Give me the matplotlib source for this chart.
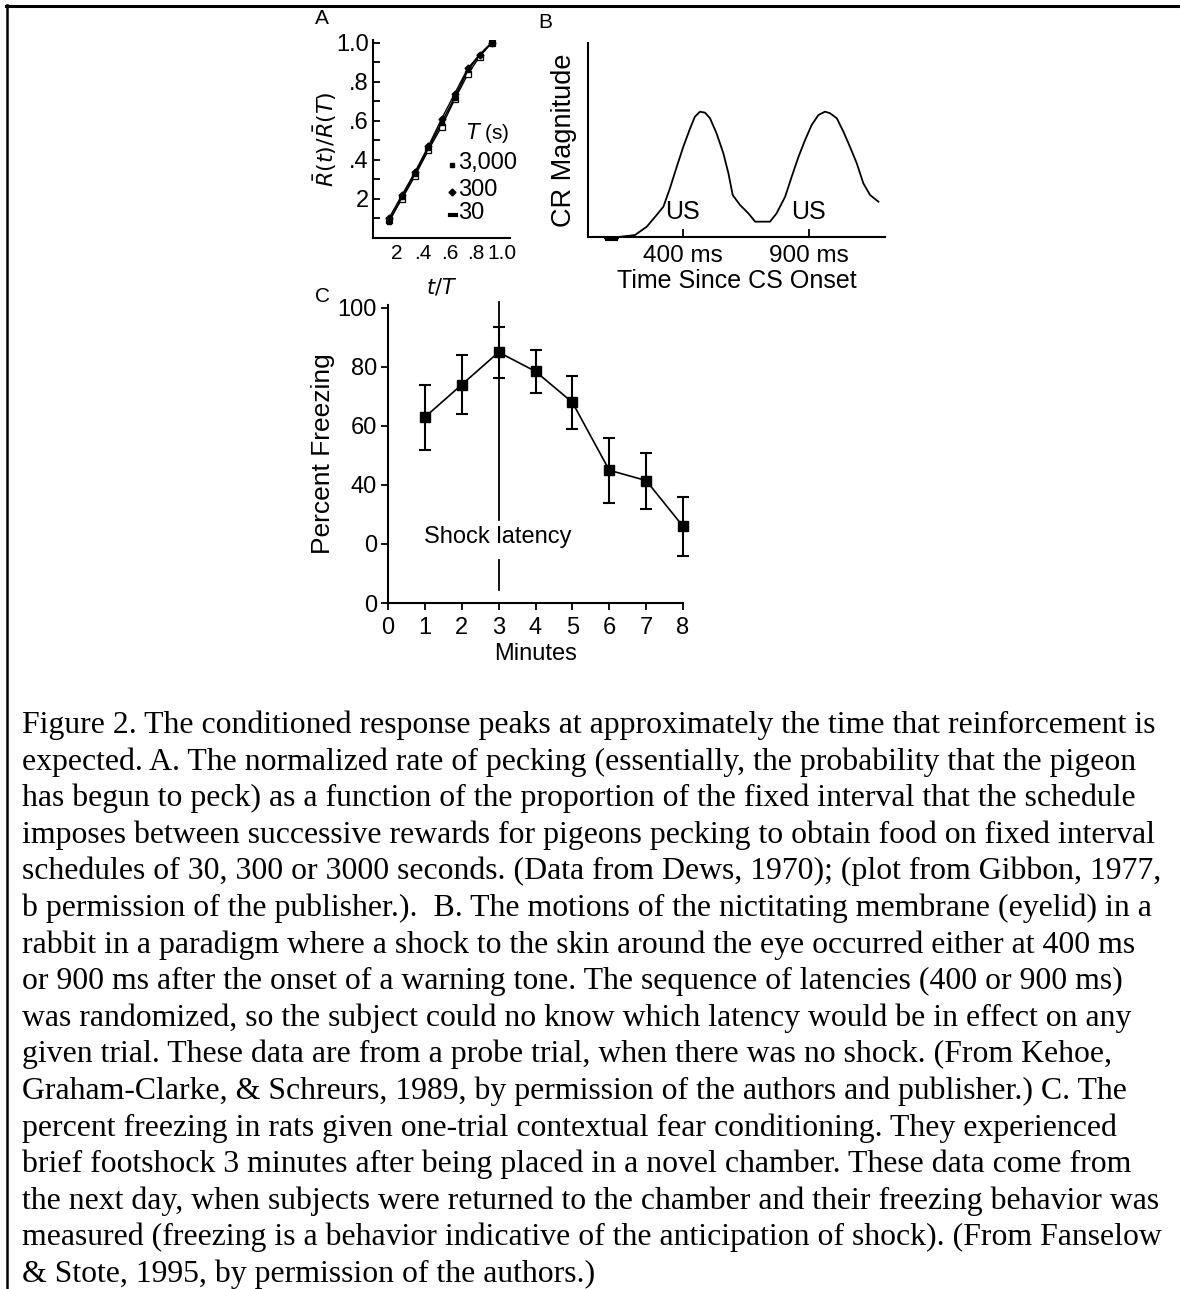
import matplotlib
matplotlib.use("Agg")
import matplotlib.pyplot as plt
from matplotlib.lines import Line2D
import numpy as np

W, H = 1180, 1289
DPI = 100

# ---------------- Data ----------------
# Panel A: normalized response rate vs t/T for three FI schedules
a_x = [0.14, 0.24, 0.34, 0.44, 0.54, 0.64, 0.74, 0.83, 0.92]
a_y_3000 = [0.08, 0.21, 0.33, 0.46, 0.59, 0.72, 0.86, 0.94, 1.00]
a_y_300 = [0.10, 0.22, 0.34, 0.47, 0.61, 0.74, 0.87, 0.94, 1.00]
a_y_30 = [0.09, 0.20, 0.32, 0.45, 0.57, 0.71, 0.84, 0.93, 1.00]
a_legend = ["3,000", "300", "30"]
a_yticks = [0.2, 0.4, 0.6, 0.8, 1.0]
a_yticklabels = ["2", ".4", ".6", ".8", "1.0"]
a_xticks = [0.2, 0.4, 0.6, 0.8, 1.0]
a_xticklabels = ["2", ".4", ".6", ".8", "1.0"]

# Panel B: CR magnitude vs time since CS onset (ms)
b_t = [24, 90, 91, 143, 144, 210, 257, 296, 323, 349, 376, 402, 429, 448, 468,
       488, 508, 534, 561, 581, 598, 627, 660, 687, 746, 772, 806, 832, 859,
       885, 911, 938, 964, 984, 1011, 1037, 1063, 1090, 1116, 1143, 1176]
b_mag = [0.0, 0.0, -0.008, -0.008, 0.0, 0.01, 0.053, 0.113, 0.156, 0.251, 0.362,
         0.465, 0.560, 0.620, 0.646, 0.641, 0.612, 0.534, 0.431, 0.328, 0.216,
         0.165, 0.122, 0.079, 0.079, 0.122, 0.208, 0.311, 0.414, 0.500, 0.577,
         0.629, 0.646, 0.638, 0.612, 0.543, 0.465, 0.380, 0.277, 0.216, 0.182]
b_us = [400, 900]
b_ticklabels = ["400 ms", "900 ms"]

# Panel C: percent freezing vs minutes
c_min = [1, 2, 3, 4, 5, 6, 7, 8]
c_freeze = [63, 74, 85, 78.5, 68, 45, 41.5, 26]
c_err = [11, 10, 8.7, 7.3, 9, 11, 9.5, 10]
c_yticks = [0, 20, 40, 60, 80, 100]
c_yticklabels = ["0", "0", "40", "60", "80", "100"]
c_xticks = [0, 1, 2, 3, 4, 5, 6, 7, 8]
c_shock = 3

caption = [
    "Figure 2. The conditioned response peaks at approximately the time that reinforcement is",
    "expected. A. The normalized rate of pecking (essentially, the probability that the pigeon",
    "has begun to peck) as a function of the proportion of the fixed interval that the schedule",
    "imposes between successive rewards for pigeons pecking to obtain food on fixed interval",
    "schedules of 30, 300 or 3000 seconds. (Data from Dews, 1970); (plot from Gibbon, 1977,",
    "b permission of the publisher.).  B. The motions of the nictitating membrane (eyelid) in a",
    "rabbit in a paradigm where a shock to the skin around the eye occurred either at 400 ms",
    "or 900 ms after the onset of a warning tone. The sequence of latencies (400 or 900 ms)",
    "was randomized, so the subject could no know which latency would be in effect on any",
    "given trial. These data are from a probe trial, when there was no shock. (From Kehoe,",
    "Graham-Clarke, & Schreurs, 1989, by permission of the authors and publisher.) C. The",
    "percent freezing in rats given one-trial contextual fear conditioning. They experienced",
    "brief footshock 3 minutes after being placed in a novel chamber. These data come from",
    "the next day, when subjects were returned to the chamber and their freezing behavior was",
    "measured (freezing is a behavior indicative of the anticipation of shock). (From Fanselow",
    "& Stote, 1995, by permission of the authors.)",
]

# ---------------- Figure ----------------
SANS = ["Liberation Sans", "DejaVu Sans"]
SERIF = ["Liberation Serif", "DejaVu Serif"]
plt.rcParams["font.family"] = SANS

fig = plt.figure(figsize=(W / DPI, H / DPI), dpi=DPI)
fig.patch.set_facecolor("white")


def rect(l, r, b, t):
    return [l / W, 1 - b / H, (r - l) / W, (b - t) / H]


def fx(px):
    return px / W


def fy(py):
    return 1 - py / H


AXLW = 1.5

# Frame lines (top and left)
fig.add_artist(Line2D([fx(6), fx(1180)], [fy(6), fy(6)], color="black", lw=2.2))
fig.add_artist(Line2D([fx(7), fx(7)], [fy(5), fy(1289)], color="black", lw=1.8))


def style(ax):
    for s in ["top", "right"]:
        ax.spines[s].set_visible(False)
    for s in ["left", "bottom"]:
        ax.spines[s].set_linewidth(AXLW)
    ax.set_facecolor("none")


# ---- Panel A ----
axA = fig.add_axes(rect(373, 510, 238, 40))
style(axA)
axA.set_xlim(0.02, 1.06)
axA.set_ylim(0, 1.015)
axA.plot(a_x, a_y_30, color="black", lw=1.0, marker="s", ms=4.5, mfc="white", mec="black", mew=0.9)
axA.plot(a_x, a_y_300, color="black", lw=1.0, marker="D", ms=3.5, mfc="black", mec="black")
axA.plot(a_x, a_y_3000, color="black", lw=1.2, marker="s", ms=3.5, mfc="black", mec="black")
axA.set_yticks(np.arange(0.1, 1.01, 0.1), minor=True)
axA.set_yticks(a_yticks)
axA.set_yticklabels(a_yticklabels, fontsize=17)
axA.set_xticks(a_xticks)
axA.set_xticklabels(a_xticklabels, fontsize=15)
axA.tick_params(axis="y", which="both", direction="in", length=5, width=1.3, pad=3)
axA.tick_params(axis="x", length=0, pad=4)
axA.set_ylabel(r"$\bar{R}(t)/\bar{R}(T)$", fontsize=16, labelpad=-2)
axA.set_xlabel(r"$t/T$", fontsize=15, labelpad=10)
fig.text(fx(466), fy(133), r"$T$ (s)", fontsize=15, ha="left", va="center")
for lab, yy in zip(a_legend, [163, 190, 213]):
    fig.text(fx(458), fy(yy), lab, fontsize=17, ha="left", va="center")
fig.add_artist(Line2D([fx(452)], [fy(165)], marker="s", ms=3.5, color="black", ls="none"))
fig.add_artist(Line2D([fx(452)], [fy(192)], marker="D", ms=3.5, color="black", ls="none"))
fig.add_artist(Line2D([fx(450), fx(456)], [fy(215), fy(215)], color="black", lw=3))
fig.text(fx(322), fy(18), "A", fontsize=15, ha="center", va="center")

# ---- Panel B ----
axB = fig.add_axes(rect(588, 885, 237, 43))
style(axB)
axB.set_xlim(24, 1202)
axB.set_ylim(0, 1.0)
axB.plot(b_t, b_mag, color="black", lw=1.3, clip_on=False)
axB.plot(b_t[2:4], b_mag[2:4], color="black", lw=3, clip_on=False, solid_capstyle="butt")
axB.set_yticks([])
axB.set_xticks(b_us)
axB.set_xticklabels(b_ticklabels, fontsize=17.5)
axB.tick_params(axis="x", direction="in", length=6, width=1.3, pad=6)
axB.set_xlabel("Time Since CS Onset", fontsize=18, labelpad=1)
axB.set_ylabel("CR Magnitude", fontsize=19.5, labelpad=8)
for t in b_us:
    axB.text(t, 0.13, "US", fontsize=18, ha="center", va="center")
fig.text(fx(545), fy(22), "B", fontsize=15, ha="center", va="center")

# ---- Panel C ----
axC = fig.add_axes(rect(388, 683, 603, 305))
style(axC)
axC.set_xlim(0, 8)
axC.set_ylim(0, 101)
axC.errorbar(c_min, c_freeze, yerr=c_err, color="black", lw=1.2, elinewidth=1.5,
             capsize=4, capthick=1.5, marker="s", ms=7, mfc="black", mec="black",
             clip_on=False)
axC.plot([c_shock, c_shock], [28, 102], color="black", lw=1.3, clip_on=False)
axC.plot([c_shock, c_shock], [4.4, 14.6], color="black", lw=1.3)
axC.text(2.98, 22.4, "Shock latency", fontsize=17, ha="center", va="center")
axC.set_yticks(c_yticks)
axC.set_yticklabels(c_yticklabels, fontsize=17)
axC.set_xticks(c_xticks)
axC.set_xticklabels([str(v) for v in c_xticks], fontsize=17)
axC.tick_params(axis="y", direction="out", length=5, width=1.3, pad=3)
axC.tick_params(axis="x", direction="out", length=5, width=1.3, pad=5)
axC.set_xlabel("Minutes", fontsize=17, labelpad=3)
axC.set_ylabel("Percent Freezing", fontsize=19, labelpad=2)
fig.text(fx(323), fy(296), "C", fontsize=15, ha="center", va="center")

# ---- Caption ----
for i, line in enumerate(caption):
    fig.text(fx(22), fy(733 + i * 36.6), line, fontsize=22.9, family=SERIF,
             ha="left", va="baseline")

fig.savefig("out.png", dpi=DPI, facecolor="white")
